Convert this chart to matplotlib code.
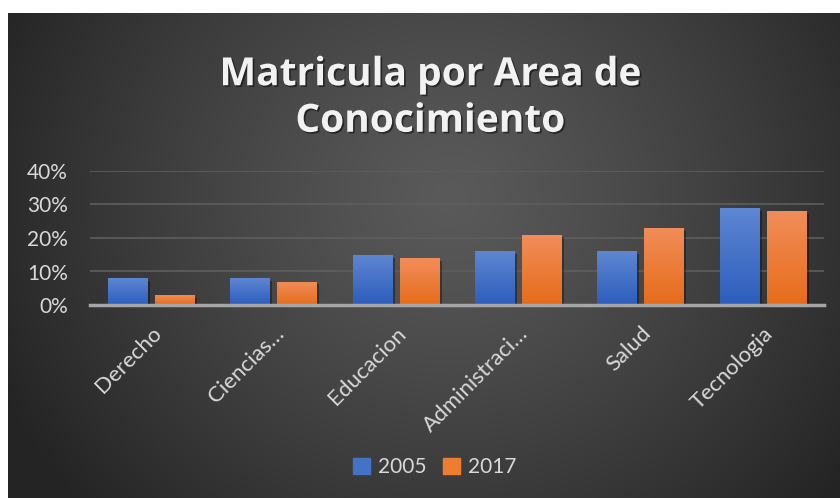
import numpy as np
import matplotlib
matplotlib.use("Agg")
import matplotlib.pyplot as plt
import matplotlib.patheffects as pe
from matplotlib.patches import Rectangle

categories = ["Derecho", "Ciencias…", "Educacion", "Administraci…", "Salud", "Tecnologia"]
series_names = ["2005", "2017"]
values_2005 = [0.08, 0.08, 0.15, 0.16, 0.16, 0.29]
values_2017 = [0.03, 0.07, 0.14, 0.21, 0.23, 0.28]
yticks = [0.0, 0.1, 0.2, 0.3, 0.4]
ytick_labels = ["0%", "10%", "20%", "30%", "40%"]
title = "Matricula por Area de\nConocimiento"

W, H = 840, 498
fig = plt.figure(figsize=(W / 100, H / 100), dpi=100)
fig.patch.set_facecolor("white")

# background radial gradient
bg = fig.add_axes([8 / W, 0, (W - 8) / W, (H - 13) / H])
bg.set_axis_off()
ny, nx = 300, 500
yy, xx = np.mgrid[0:ny, 0:nx]
cx, cy = nx * 0.53, ny * 0.38
r = np.sqrt(((xx - cx) / (nx * 0.60)) ** 2 + ((yy - cy) / (ny * 0.95)) ** 2)
r = np.clip(r, 0, 1)
c0, c1 = 0x5a / 255, 0x24 / 255
val = c0 + (c1 - c0) * r ** 1.2
img = np.dstack([val, val, val])
bg.imshow(img, aspect="auto", extent=[0, 1, 0, 1], origin="upper")
bg.set_xlim(0, 1)
bg.set_ylim(0, 1)

ax = fig.add_axes([90 / W, 1 - 305 / H, (824 - 90) / W, (305 - 171) / H])
ax.set_facecolor("none")
x = np.arange(len(categories))
bw = 0.319
off = 0.192

grad_colors = {
    "2005": (np.array([0x5e, 0x86, 0xd2]) / 255, np.array([0x2d, 0x5e, 0xbd]) / 255, "#4472c4"),
    "2017": (np.array([0xf1, 0x8d, 0x5a]) / 255, np.array([0xe6, 0x6c, 0x1a]) / 255, "#ed7d31"),
}

for name, vals, dx in [("2005", values_2005, -off), ("2017", values_2017, off)]:
    top, bot, base = grad_colors[name]
    bars = ax.bar(x + dx, vals, width=bw, color=base, zorder=3,
                  path_effects=[pe.SimplePatchShadow(offset=(2, -2), shadow_rgbFace="black", alpha=0.35), pe.Normal()])
    for b in bars:
        x0, y0 = b.get_x(), b.get_y()
        w, h = b.get_width(), b.get_height()
        t = np.linspace(0, 1, 64)[:, None]
        g = top[None, :] * (1 - t) + bot[None, :] * t
        g = g[:, None, :]
        im = ax.imshow(g, extent=[x0, x0 + w, y0, y0 + h], aspect="auto", zorder=4, origin="upper")
        im.set_clip_path(b)

ax.set_xlim(-0.5, len(categories) - 0.5)
ax.set_ylim(0, 0.4)
ax.set_yticks(yticks)
ax.set_yticklabels(ytick_labels)
ax.yaxis.grid(True, color="#5e5e5e", lw=1.2, zorder=0)
ax.set_axisbelow(True)
for s in ["top", "right", "left"]:
    ax.spines[s].set_visible(False)
ax.spines["bottom"].set_color("#a6a6a6")
ax.spines["bottom"].set_linewidth(2.5)
ax.spines["bottom"].set_zorder(5)
ax.tick_params(axis="both", length=0, colors="#d9d9d9")
ax.tick_params(axis="y", pad=16, labelsize=15)
ax.set_xticks(x)
ax.set_xticklabels(categories, rotation=45, ha="right", va="top", rotation_mode="anchor")
ax.tick_params(axis="x", pad=13, labelsize=16)
for lab in ax.get_xticklabels() + ax.get_yticklabels():
    lab.set_fontfamily("Lato")
    lab.set_color("#d9d9d9")

fig.text(430 / W, 1 - 98 / H, title, ha="center", va="center", fontsize=28,
         fontweight="bold", family="Open Sans", color="#f2f2f2", linespacing=1.25,
         path_effects=[pe.withSimplePatchShadow(offset=(1.2, -1.2), shadow_rgbFace="black", alpha=0.5)])

handles = [Rectangle((0, 0), 1, 1, color=grad_colors[n][2]) for n in series_names]
leg = fig.legend(handles, series_names, loc="center", bbox_to_anchor=(435 / W, 1 - 467 / H),
                 ncol=2, frameon=False, prop={"family": "Lato", "size": 15},
                 handlelength=0.8, handleheight=0.8, handletextpad=0.4, columnspacing=0.8)
for t in leg.get_texts():
    t.set_color("#d9d9d9")

fig.savefig("out.png", dpi=100, facecolor=fig.get_facecolor())
